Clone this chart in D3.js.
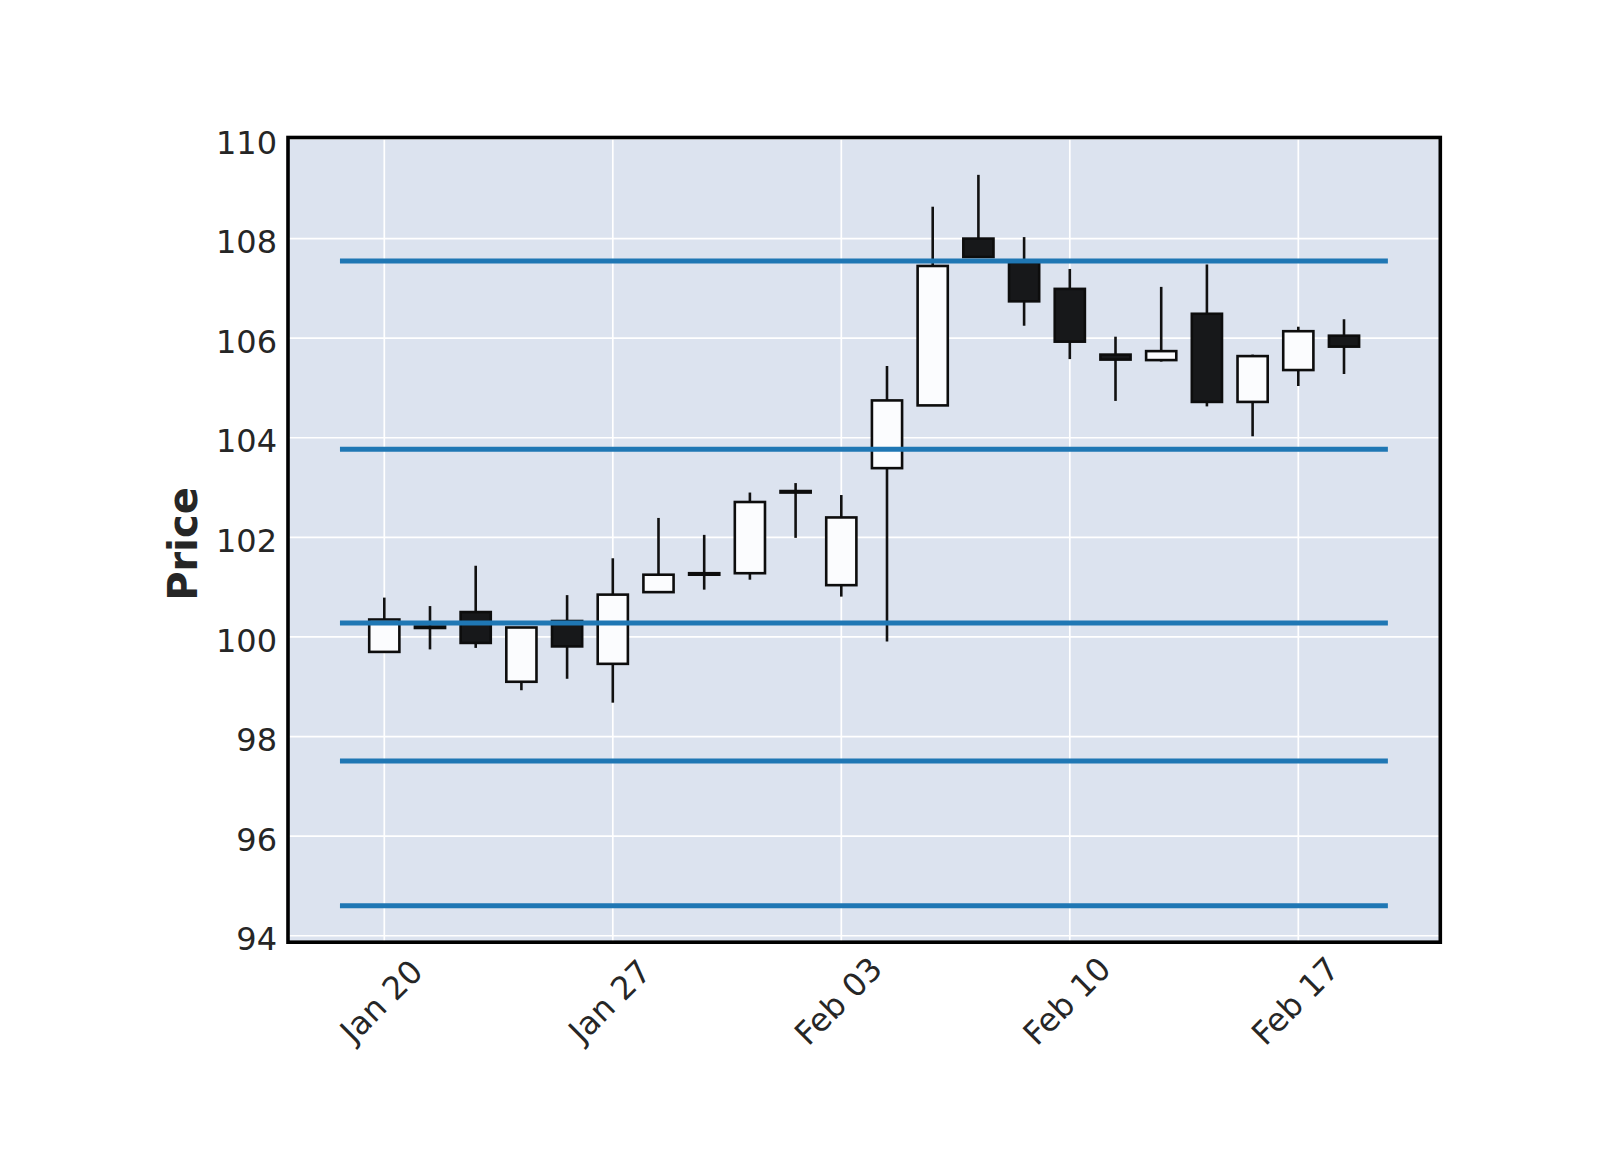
<!DOCTYPE html>
<html>
<head>
<meta charset="utf-8">
<script src="https://cdn.jsdelivr.net/npm/d3@7"></script>
<style>
    body { margin: 0; background: #fff; }
    .chart-content text { font-family: "DejaVu Sans", sans-serif; fill: #262626; }
</style>
</head>
<body>
<div class="chart-content"></div>
<script>
// business days, Jan 20 - Feb 18 2020
let dates = ['2020-01-20', '2020-01-21', '2020-01-22', '2020-01-23', '2020-01-24',
    '2020-01-27', '2020-01-28', '2020-01-29', '2020-01-30', '2020-01-31',
    '2020-02-03', '2020-02-04', '2020-02-05', '2020-02-06', '2020-02-07',
    '2020-02-10', '2020-02-11', '2020-02-12', '2020-02-13', '2020-02-14',
    '2020-02-17', '2020-02-18'];
let opens  = [99.70, 100.21, 100.50, 99.10, 100.32, 99.46, 100.90, 101.25, 101.28, 102.90, 101.04,
    103.39, 104.65, 108.00, 107.52, 106.99, 105.67, 105.56, 106.49, 104.72, 105.36, 106.05];
let highs  = [100.79, 100.62, 101.43, 100.19, 100.84, 101.58, 102.39, 102.05, 102.90, 103.09, 102.85,
    105.44, 108.64, 109.28, 108.03, 107.39, 106.03, 107.03, 107.48, 105.67, 106.23, 106.38];
let lows   = [99.70, 99.75, 99.78, 98.93, 99.16, 98.68, 100.90, 100.95, 101.15, 101.99, 100.81,
    99.91, 104.65, 107.63, 106.25, 105.58, 104.74, 105.53, 104.63, 104.03, 105.04, 105.28];
let closes = [100.35, 100.18, 99.88, 100.19, 99.81, 100.85, 101.25, 101.28, 102.71, 102.93, 102.40,
    104.75, 107.45, 107.63, 106.74, 105.93, 105.57, 105.74, 104.72, 105.64, 106.14, 105.83];
let hlineValues = [107.55, 103.77, 100.28, 97.51, 94.60];
let yTicks = [94, 96, 98, 100, 102, 104, 106, 108, 110];
let xTickIdx = [0, 5, 10, 15, 20];

let w = 1600;
let h = 1150;
let pLeft = 288, pRight = 1440.3, pTop = 137.5, pBottom = 942.2;

let parse = d3.timeParse('%Y-%m-%d');
let fmt = d3.timeFormat('%b %d');

let svg = d3.select('.chart-content')
    .append('svg')
    .attr('width', w)
    .attr('height', h);

let x = d3.scaleLinear().domain([-2.107, 23.107]).range([pLeft, pRight]);
let y = d3.scaleLinear().domain([93.87, 110.03]).range([pBottom, pTop]);

svg.append('rect')
    .attr('x', pLeft).attr('y', pTop)
    .attr('width', pRight - pLeft).attr('height', pBottom - pTop)
    .attr('fill', '#DCE3EF');

// grid
svg.selectAll('.ygrid').data(yTicks).enter().append('line')
    .attr('x1', pLeft).attr('x2', pRight)
    .attr('y1', function(d) {return y(d)}).attr('y2', function(d) {return y(d)})
    .attr('stroke', '#fff').attr('stroke-width', 1.7);
svg.selectAll('.xgrid').data(xTickIdx).enter().append('line')
    .attr('x1', function(d) {return x(d)}).attr('x2', function(d) {return x(d)})
    .attr('y1', pTop).attr('y2', pBottom)
    .attr('stroke', '#fff').attr('stroke-width', 1.7);

// candles
let idx = d3.range(dates.length);
let bw = 0.66;

svg.selectAll('.wick').data(idx).enter().append('line')
    .attr('x1', function(i) {return x(i)}).attr('x2', function(i) {return x(i)})
    .attr('y1', function(i) {return y(highs[i])}).attr('y2', function(i) {return y(lows[i])})
    .attr('stroke', '#111').attr('stroke-width', 2.6);

svg.selectAll('.body').data(idx).enter().append('rect')
    .attr('x', function(i) {return x(i - bw / 2)})
    .attr('width', x(bw) - x(0))
    .attr('y', function(i) {return y(Math.max(opens[i], closes[i]))})
    .attr('height', function(i) {return Math.abs(y(opens[i]) - y(closes[i]))})
    .attr('fill', function(i) {return closes[i] >= opens[i] ? '#FBFCFE' : '#17181A'})
    .attr('stroke', '#0d0d0d')
    .attr('stroke-width', 2.6);

// horizontal lines
svg.selectAll('.hline').data(hlineValues).enter().append('line')
    .attr('x1', x(-0.97)).attr('x2', x(21.96))
    .attr('y1', function(d) {return y(d)}).attr('y2', function(d) {return y(d)})
    .attr('stroke', '#1f77b4').attr('stroke-width', 5);

// frame
svg.append('rect')
    .attr('x', pLeft).attr('y', pTop)
    .attr('width', pRight - pLeft).attr('height', pBottom - pTop)
    .attr('fill', 'none').attr('stroke', '#000').attr('stroke-width', 3.6);

// y tick labels
svg.selectAll('.ytick').data(yTicks).enter().append('text')
    .attr('x', pLeft - 11)
    .attr('y', function(d) {return y(d)})
    .attr('dy', '0.46em')
    .attr('text-anchor', 'end')
    .attr('font-size', '32px')
    .text(function(d) {return d;});

// x tick labels, rotated 45
svg.selectAll('.xtick').data(xTickIdx).enter().append('text')
    .attr('transform', function(d) {return 'translate(' + (x(d) - 3) + ',1001) rotate(-45)'})
    .attr('text-anchor', 'middle')
    .attr('dy', '0.35em')
    .attr('font-size', '32px')
    .text(function(d) {return fmt(parse(dates[d]));});

svg.append('text')
    .attr('transform', 'translate(197,544) rotate(-90)')
    .attr('text-anchor', 'middle')
    .attr('font-size', '40px')
    .attr('font-weight', 'bold')
    .text('Price');
</script>
</body>
</html>
